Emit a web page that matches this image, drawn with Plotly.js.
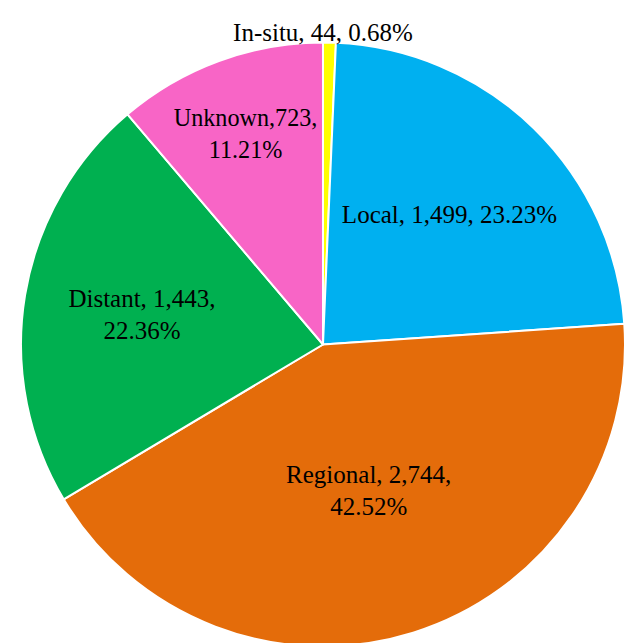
<!DOCTYPE html>
<html>
<head>
<meta charset="utf-8">
<script src="https://cdn.plot.ly/plotly-3.0.1.min.js"></script>
<style>
html, body { margin: 0; padding: 0; overflow: hidden; background: #fff; }
#chart { width: 629px; height: 666px; }
</style>
</head>
<body>
<div id="chart"></div>
<script>
const categories = ['In-situ', 'Local', 'Regional', 'Distant', 'Unknown'];
const counts = [44, 1499, 2744, 1443, 723];
const percents = [0.68, 23.23, 42.52, 22.36, 11.21];
const sliceColors = ['#FFFF00', '#00B0F0', '#E46C0A', '#00B050', '#F865C6'];
const labelTemplates = [
  '',
  '%{label}, %{value:,}, %{customdata:.2f}%',
  '%{label}, %{value:,},<br>%{customdata:.2f}%',
  '%{label}, %{value:,},<br>%{customdata:.2f}%',
  '%{label},%{value:,},<br>%{customdata:.2f}%'
];

const serif = '"Liberation Serif", "Times New Roman", serif';
const fmt = n => n.toLocaleString('en-US');
const topLabel = categories[0] + ', ' + fmt(counts[0]) + ', ' + percents[0].toFixed(2) + '%';

const trace = {
  type: 'pie',
  labels: categories,
  values: counts,
  customdata: percents,
  sort: false,
  direction: 'clockwise',
  rotation: 0,
  marker: { colors: sliceColors, line: { color: '#FFFFFF', width: 2 } },
  texttemplate: labelTemplates,
  textposition: 'inside',
  insidetextorientation: 'horizontal',
  textfont: { family: serif, size: 25, color: '#000000' },
  insidetextfont: { family: serif, size: 25, color: '#000000' },
  title: { text: topLabel, position: 'top center', font: { family: serif, size: 25, color: '#000000' } },
  hoverinfo: 'none',
  showlegend: false
};

const layout = {
  width: 629,
  height: 666,
  margin: { l: 21, r: 4, t: 0, b: 4 },
  paper_bgcolor: '#FFFFFF',
  showlegend: false
};

Plotly.newPlot('chart', [trace], layout, { staticPlot: true, displayModeBar: false });
</script>
</body>
</html>
